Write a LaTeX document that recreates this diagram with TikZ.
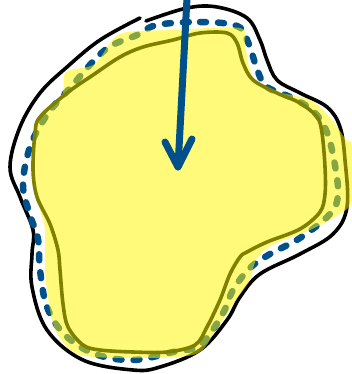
\documentclass[tikz,border=0pt]{standalone}
\usetikzlibrary{calc}
\definecolor{InkBlue}{RGB}{0,80,140}
\definecolor{MarkerYellow}{RGB}{255,245,0}
\definecolor{OliveLine}{RGB}{128,128,0}
\tikzset{
  outerline/.style={draw=black,line width=3.6pt,line cap=round},
  dotline/.style={draw=InkBlue,line width=6.5pt,line cap=round,dash pattern=on 6pt off 12pt},
  yellowfill/.style={fill=MarkerYellow,fill opacity=0.52,draw=none},
  oliveline/.style={draw=OliveLine,line width=3.6pt,line cap=round,line join=round},
  arrowline/.style={draw=InkBlue,line width=7pt,line cap=round,line join=round}
}
\begin{document}
\begin{tikzpicture}[x=1pt,y=-1pt]
  \useasboundingbox (0,0) rectangle (351,374);
  % outer border, open at top left
  \draw[outerline] plot[smooth,tension=0.6] coordinates {
    (146,21) (187,8) (217,7) (247,18) (260,40) (267,60) (277,80) (300,93)
    (327,107) (340,127) (345,160) (347,207) (333,234) (300,254) (260,274)
    (240,297) (227,320) (200,350) (160,367) (133,370) (83,360) (47,330)
    (32,287) (32,254) (33,230) (20,197) (10,167) (20,127) (40,93) (67,67)
    (100,40) (140,18)};
  % dashed border
  \draw[dotline] plot[smooth cycle,tension=0.6] coordinates {
    (157,25) (200,22) (237,26) (248,42) (258,72) (267,87) (290,97)
    (312,110) (326,130) (334,160) (338,194) (330,214) (300,238) (270,254)
    (250,268) (233,290) (222,315) (200,345) (173,352) (133,360) (95,354)
    (65,335) (47,307) (40,270) (38,239) (30,215) (23,185) (30,147)
    (47,115) (70,88) (105,50) (137,35)};
  % marker fill
  \fill[yellowfill] plot[smooth cycle,tension=0.5] coordinates {
    (35,195) (33,150) (40,115) (62,95) (66,72) (95,64) (120,34) (175,30)
    (240,28) (245,45) (250,70) (262,88) (310,100) (332,120) (346,140)
    (352,146) (352,200) (338,215) (310,230) (272,245) (256,260) (250,280)
    (236,300) (216,330) (196,354) (140,358) (80,355) (58,335) (50,310)
    (45,270) (45,230) (40,210)};
  % inner outline
  \draw[oliveline] plot[smooth cycle,tension=0.55] coordinates {
    (35,133) (40,117) (67,93) (93,75) (120,57) (143,47) (173,40) (200,33)
    (227,33) (237,43) (243,63) (253,80) (277,93) (300,103) (317,117)
    (322,133) (325,167) (325,194) (320,212) (300,229) (267,242) (247,252)
    (240,257) (230,274) (220,300) (207,327) (195,345) (167,352) (133,352)
    (100,350) (83,345) (68,327) (63,304) (60,270) (58,250) (50,224)
    (37,197) (33,170)};
  % arrow
  \coordinate (start) at (187,-2);
  \coordinate (tip) at (178,167);
  \coordinate (barbL) at (165,142);
  \coordinate (barbR) at (192,139);
  \draw[arrowline] (start) -- (tip);
  \draw[arrowline] (barbL) -- (tip) -- (barbR);
\end{tikzpicture}
\end{document}
